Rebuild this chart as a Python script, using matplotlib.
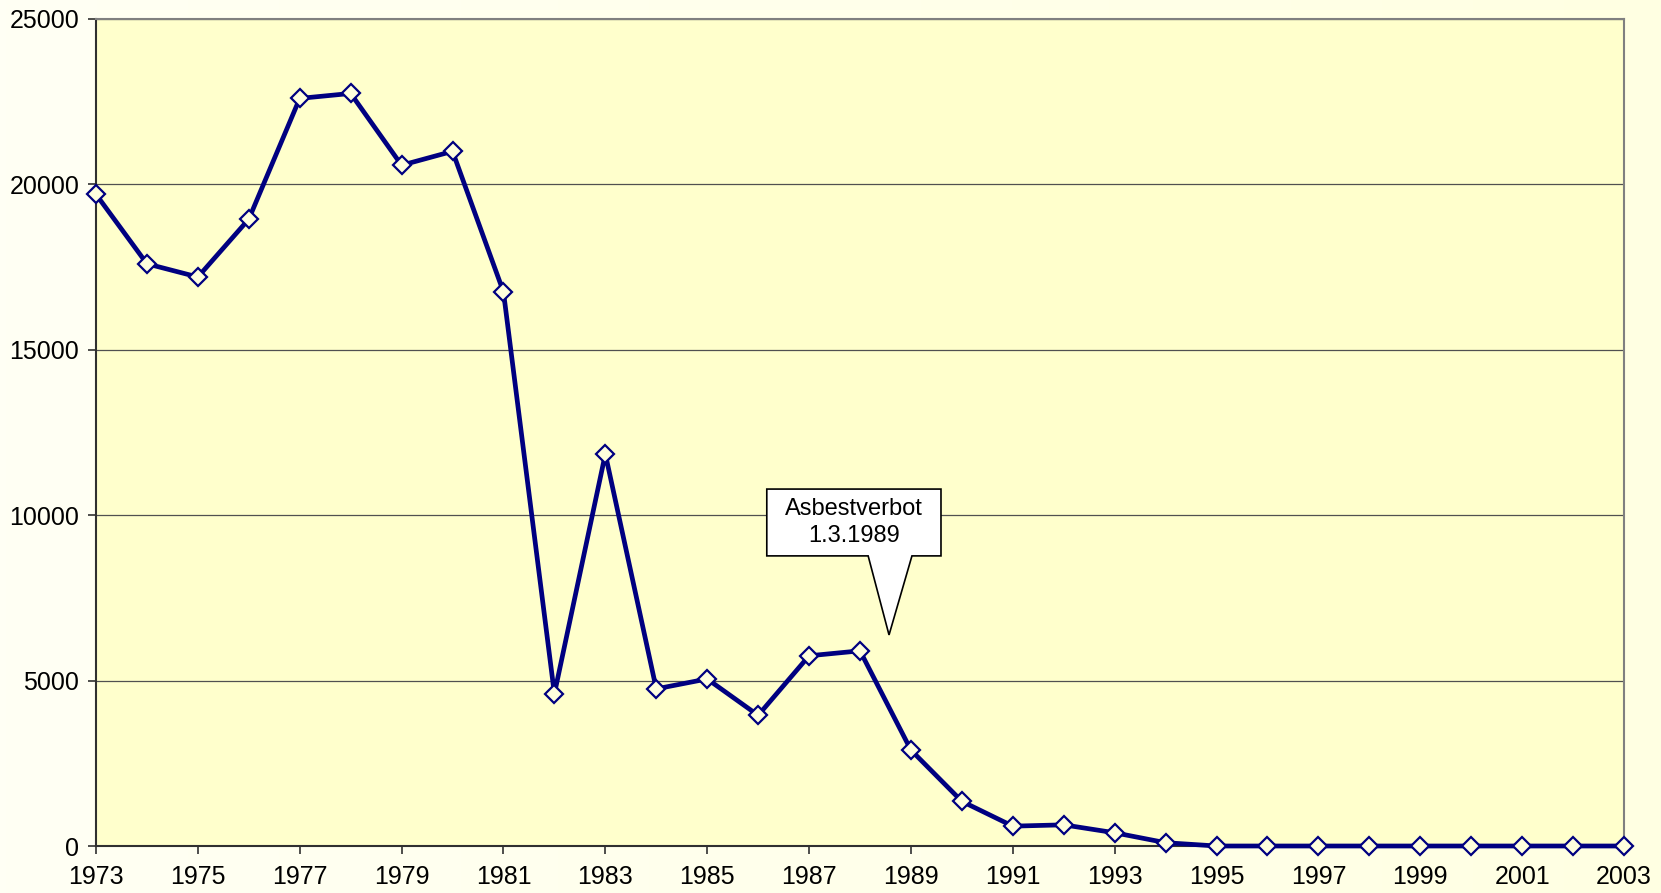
import matplotlib
matplotlib.use("Agg")
import matplotlib.pyplot as plt
import numpy as np
from matplotlib.patches import Polygon
from matplotlib.colors import LinearSegmentedColormap

years = list(range(1973, 2004))
values = [19700, 17600, 17200, 18950, 22600, 22750, 20580, 21000, 16750,
          4600, 11850, 4750, 5050, 3950, 5750, 5900, 2900, 1350, 600, 640,
          400, 100, 0, 0, 0, 0, 0, 0, 0, 0, 0]
xtick_years = list(range(1973, 2004, 2))
ytick_values = [0, 5000, 10000, 15000, 20000, 25000]
callout_text = "Asbestverbot\n1.3.1989"

plt.rcParams['font.family'] = ['Liberation Sans', 'DejaVu Sans']

fig = plt.figure(figsize=(16.61, 8.93), dpi=100)
# background gradient
bg = fig.add_axes([0, 0, 1, 1], zorder=-10)
grad = np.linspace(0, 1, 256)[None, :]
cmap = LinearSegmentedColormap.from_list('bg', ['#FFFFF4', '#FFFFE2'])
bg.imshow(grad, aspect='auto', cmap=cmap, extent=[0, 1, 0, 1])
bg.axis('off')

ax = fig.add_axes([96/1661, 47/893, (1624-96)/1661, (846-19)/893])
ax.set_facecolor('#FFFFCC')
ax.set_xlim(1973, 2003)
ax.set_ylim(0, 25000)

ax.yaxis.grid(True, color='#505050', linewidth=0.9)
ax.set_axisbelow(True)

ax.plot(years, values, color='#000080', linewidth=3.4, marker='D',
        markersize=8.8, markerfacecolor='#FFFFDD', markeredgecolor='#000080',
        markeredgewidth=1.6, clip_on=False, zorder=5)

ax.set_xticks(xtick_years)
ax.set_xticklabels([str(y) for y in xtick_years])
ax.set_yticks(ytick_values)
ax.set_yticklabels([str(v) for v in ytick_values])
ax.tick_params(axis='both', direction='out', length=6, width=1.2, labelsize=18,
               color='#303030')
ax.tick_params(axis='y', pad=6)
ax.tick_params(axis='x', pad=8)

for s in ['left', 'bottom']:
    ax.spines[s].set_color('#303030')
    ax.spines[s].set_linewidth(1.5)
for s in ['top', 'right']:
    ax.spines[s].set_color('#808080')
    ax.spines[s].set_linewidth(1.5)

# callout
bx0, bx1, by0, by1 = 1986.17, 1989.59, 8770, 10790
tip = (1988.57, 6380)
base0, base1 = 1988.16, 1989.02
poly = Polygon([(bx0, by1), (bx1, by1), (bx1, by0), (base1, by0), tip,
                (base0, by0), (bx0, by0)], closed=True, facecolor='white',
               edgecolor='black', linewidth=1.2, zorder=6)
ax.add_patch(poly)
ax.text((bx0 + bx1) / 2, (by0 + by1) / 2, callout_text, ha='center', va='center',
        fontsize=17, linespacing=1.25, zorder=7)

fig.savefig('out.png', dpi=100)
